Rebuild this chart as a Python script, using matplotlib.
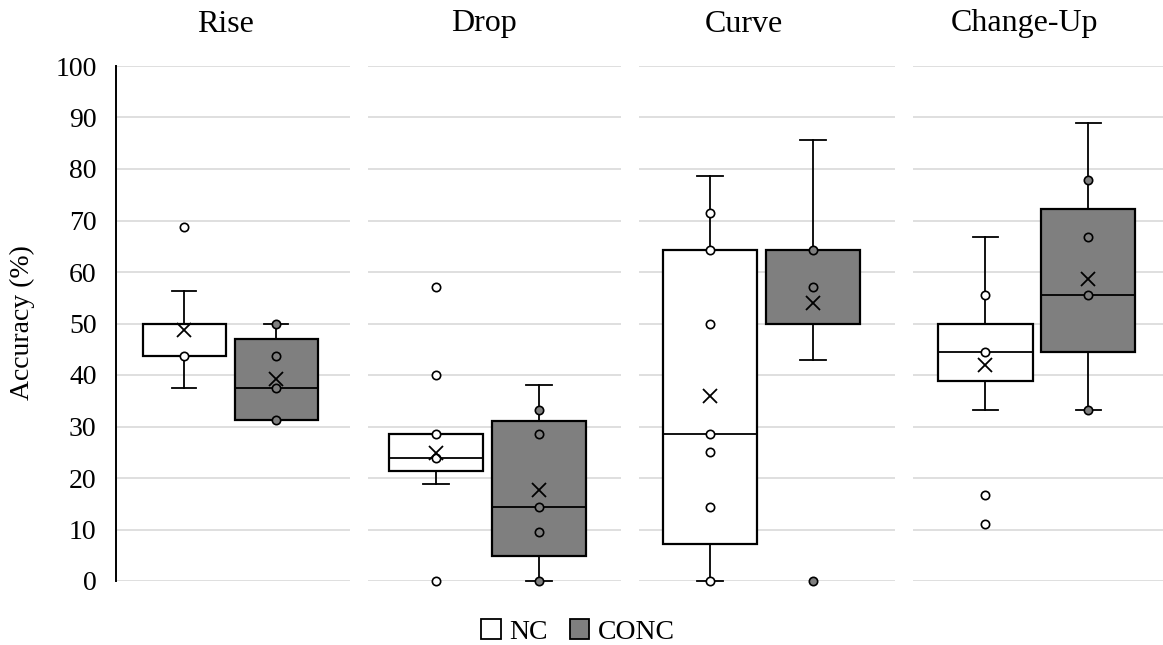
import numpy as np
import matplotlib.pyplot as plt
from matplotlib.patches import Patch

plt.rcParams['font.family'] = ['Liberation Serif', 'DejaVu Serif']

categories = ["Rise", "Drop", "Curve", "Change-Up"]

# NC box stats
nc_whislo = [37.5, 18.9, 0.0, 33.3]
nc_q1 = [43.75, 21.3, 7.1, 38.9]
nc_med = [43.75, 23.8, 28.6, 44.4]
nc_q3 = [50.0, 28.6, 64.3, 50.0]
nc_whishi = [56.25, 28.6, 78.6, 66.7]
nc_mean = [48.8, 24.9, 36.0, 41.9]
nc_points = [[68.75, 43.75],
             [57.1, 40.0, 28.6, 23.8, 0.0],
             [71.4, 64.3, 50.0, 28.6, 25.0, 14.3, 0.0],
             [55.6, 44.4, 16.7, 11.1]]

# CONC box stats
conc_whislo = [31.25, 0.0, 42.9, 33.3]
conc_q1 = [31.25, 4.8, 50.0, 44.4]
conc_med = [37.5, 14.3, 64.3, 55.6]
conc_q3 = [46.9, 31.0, 64.3, 72.2]
conc_whishi = [50.0, 38.1, 85.7, 88.9]
conc_mean = [39.3, 17.6, 54.0, 58.6]
conc_points = [[50.0, 43.75, 37.5, 31.25],
               [33.3, 28.6, 14.3, 9.5, 0.0],
               [64.3, 57.1, 0.0],
               [77.8, 66.7, 55.6, 33.3]]

yticks = np.arange(0, 101, 10)

# layout in pixels
W, H = 1163, 645
panels_px = [(116, 350), (368, 621), (639, 895), (913, 1163)]
pos_nc = [0.291, 0.269, 0.277, 0.289]
pos_conc = [0.684, 0.676, 0.679, 0.70]
box_w = [0.355, 0.372, 0.367, 0.378]
title_x = [225, 484, 744, 1024]
y_top, y_bot = 66, 581

gray = '#7f7f7f'

fig = plt.figure(figsize=(W / 100, H / 100), dpi=100)

for i, cat in enumerate(categories):
    x0, x1 = panels_px[i]
    ax = fig.add_axes([x0 / W, 1 - y_bot / H, (x1 - x0) / W, (y_bot - y_top) / H])
    ax.set_xlim(0, 1)
    ax.set_ylim(0, 100)
    ax.set_yticks(yticks)
    ax.yaxis.grid(True, color='#d9d9d9', lw=1.2)
    ax.set_axisbelow(True)
    ax.set_xticks([])
    for s in ['top', 'right', 'bottom']:
        ax.spines[s].set_visible(False)
    if i == 0:
        ax.spines['left'].set_color('black')
        ax.spines['left'].set_linewidth(1.4)
        ax.tick_params(axis='y', length=0, pad=14, labelsize=20)
        ax.spines['left'].set_bounds(0, 100)
    else:
        ax.spines['left'].set_visible(False)
        ax.tick_params(axis='y', length=0, labelleft=False)

    stats = [
        dict(whislo=nc_whislo[i], q1=nc_q1[i], med=nc_med[i], q3=nc_q3[i],
             whishi=nc_whishi[i], mean=nc_mean[i], fliers=[]),
        dict(whislo=conc_whislo[i], q1=conc_q1[i], med=conc_med[i], q3=conc_q3[i],
             whishi=conc_whishi[i], mean=conc_mean[i], fliers=[]),
    ]
    bp = ax.bxp(stats, positions=[pos_nc[i], pos_conc[i]], widths=box_w[i],
                capwidths=0.1, showmeans=True, patch_artist=True,
                boxprops=dict(lw=1.6, edgecolor='black'),
                medianprops=dict(color='black', lw=1.3),
                whiskerprops=dict(color='black', lw=1.3),
                capprops=dict(color='black', lw=1.3),
                meanprops=dict(marker='x', markeredgecolor='black', markersize=10,
                               markeredgewidth=1.3),
                manage_ticks=False)
    bp['boxes'][0].set_facecolor('white')
    bp['boxes'][1].set_facecolor(gray)
    for art in bp['whiskers'] + bp['caps']:
        art.set_clip_on(False)
    for m in bp['means']:
        m.set_zorder(5)

    ax.plot([pos_nc[i]] * len(nc_points[i]), nc_points[i], 'o', ms=6,
            mfc='white', mec='black', mew=1.2, clip_on=False, zorder=4)
    ax.plot([pos_conc[i]] * len(conc_points[i]), conc_points[i], 'o', ms=6,
            mfc=gray, mec='black', mew=1.2, clip_on=False, zorder=4)

    fig.text(title_x[i] / W, 1 - 24 / H, cat, ha='center', va='center', fontsize=23)

fig.text(22 / W, 1 - 323 / H, 'Accuracy (%)', rotation=90, ha='center', va='center',
         fontsize=20)

handles = [Patch(facecolor='white', edgecolor='black', lw=1.3, label='NC'),
           Patch(facecolor=gray, edgecolor='black', lw=1.3, label='CONC')]
fig.legend(handles=handles, loc='center', bbox_to_anchor=(578 / W, 1 - 632 / H),
           ncol=2, frameon=False, fontsize=20, handlelength=0.7, handleheight=0.7,
           handletextpad=0.3, columnspacing=0.8, borderpad=0)

fig.savefig('out.png', dpi=100)
